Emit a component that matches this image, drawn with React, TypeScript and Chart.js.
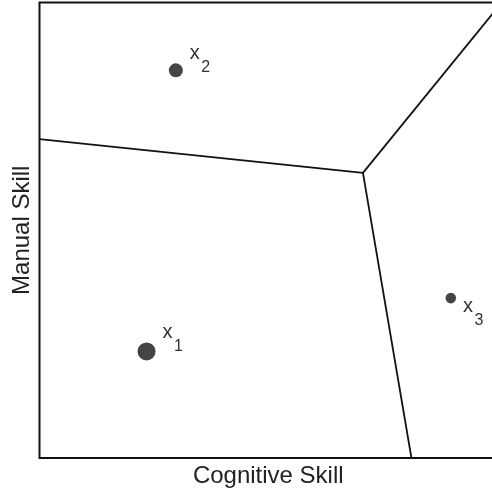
import React, { useEffect, useRef } from "react";
import { Chart, registerables } from "chart.js";

Chart.register(...registerables);

// Axis titles
const xTitle = "Cognitive Skill";
const yTitle = "Manual Skill";

// Points (cognitive skill, manual skill), sizes, labels
const pointNames = ["x", "x", "x"];
const pointSubscripts = ["1", "2", "3"];
const cognitive = [23.4, 29.8, 89.9];
const manual = [23.4, 85.1, 35.1];
const pointSizes = [9, 7, 5.3];
const labelBelow = [false, false, true];

// Boundary segments between regions
const leftBoundaryX = [0, 70.7];
const leftBoundaryY = [70.0, 62.6];
const diagBoundaryX = [70.7, 100];
const diagBoundaryY = [62.6, 98.7];
const lowerBoundaryX = [70.7, 81.3];
const lowerBoundaryY = [62.6, 0];

const FONT = "'Liberation Sans', Arial, Helvetica, sans-serif";

const seg = (xs: number[], ys: number[]) => xs.map((x, i) => ({ x, y: ys[i] }));

const overlayPlugin = {
  id: "overlay",
  afterDatasetsDraw(chart: any) {
    const { ctx, chartArea } = chart;
    ctx.save();
    ctx.strokeStyle = "#111";
    ctx.lineWidth = 2;
    ctx.strokeRect(chartArea.left, chartArea.top, chartArea.right - chartArea.left, chartArea.bottom - chartArea.top);
    const meta = chart.getDatasetMeta(0);
    meta.data.forEach((el: any, i: number) => {
      const r = pointSizes[i];
      const x0 = el.x + r + 7;
      const base = labelBelow[i] ? el.y + r + 9 : el.y - (r + 4.3);
      ctx.fillStyle = "#333";
      ctx.textBaseline = "alphabetic";
      ctx.textAlign = "left";
      ctx.font = `20px ${FONT}`;
      ctx.fillText(pointNames[i], x0, base);
      const w = ctx.measureText(pointNames[i]).width;
      ctx.font = `16px ${FONT}`;
      ctx.fillText(pointSubscripts[i], x0 + w + 1.5, base + 12.5);
    });
    ctx.restore();
  },
};

export default function App() {
  const ref = useRef<HTMLCanvasElement | null>(null);
  useEffect(() => {
    if (!ref.current) return;
    const lineStyle = {
      showLine: true,
      pointRadius: 0,
      borderColor: "#111",
      borderWidth: 1.8,
      backgroundColor: "#111",
      fill: false,
    };
    const chart = new Chart(ref.current, {
      type: "scatter",
      data: {
        datasets: [
          {
            data: cognitive.map((x, i) => ({ x, y: manual[i] })),
            pointRadius: pointSizes,
            pointHoverRadius: pointSizes,
            backgroundColor: "#444",
            borderWidth: 0,
          } as any,
          { data: seg(leftBoundaryX, leftBoundaryY), ...lineStyle },
          { data: seg(diagBoundaryX, diagBoundaryY), ...lineStyle },
          { data: seg(lowerBoundaryX, lowerBoundaryY), ...lineStyle },
        ],
      },
      options: {
        responsive: false,
        animation: false,
        layout: { autoPadding: false, padding: { top: 2.5, right: 3, left: 0, bottom: 0 } },
        plugins: { legend: { display: false }, tooltip: { enabled: false } },
        scales: {
          x: {
            type: "linear",
            min: 0,
            max: 100,
            grid: { display: false, drawTicks: false },
            border: { display: false },
            ticks: { display: false },
            title: {
              display: true,
              text: xTitle,
              color: "#222",
              font: { size: 24, family: FONT },
              padding: { top: 4.1, bottom: 4.1 },
            },
          },
          y: {
            type: "linear",
            min: 0,
            max: 100,
            grid: { display: false, drawTicks: false },
            border: { display: false },
            ticks: { display: false },
            title: {
              display: true,
              text: yTitle,
              color: "#222",
              font: { size: 24, family: FONT },
              padding: { top: 7.6, bottom: 3.1 },
            },
          },
        },
      },
      plugins: [overlayPlugin],
    } as any);
    return () => chart.destroy();
  }, []);
  return (
    <div style={{ position: "fixed", left: 0, top: 0, width: 492, height: 495, overflow: "hidden", background: "#fff" }}>
      <canvas ref={ref} width={500} height={495} style={{ display: "block" }} />
    </div>
  );
}
